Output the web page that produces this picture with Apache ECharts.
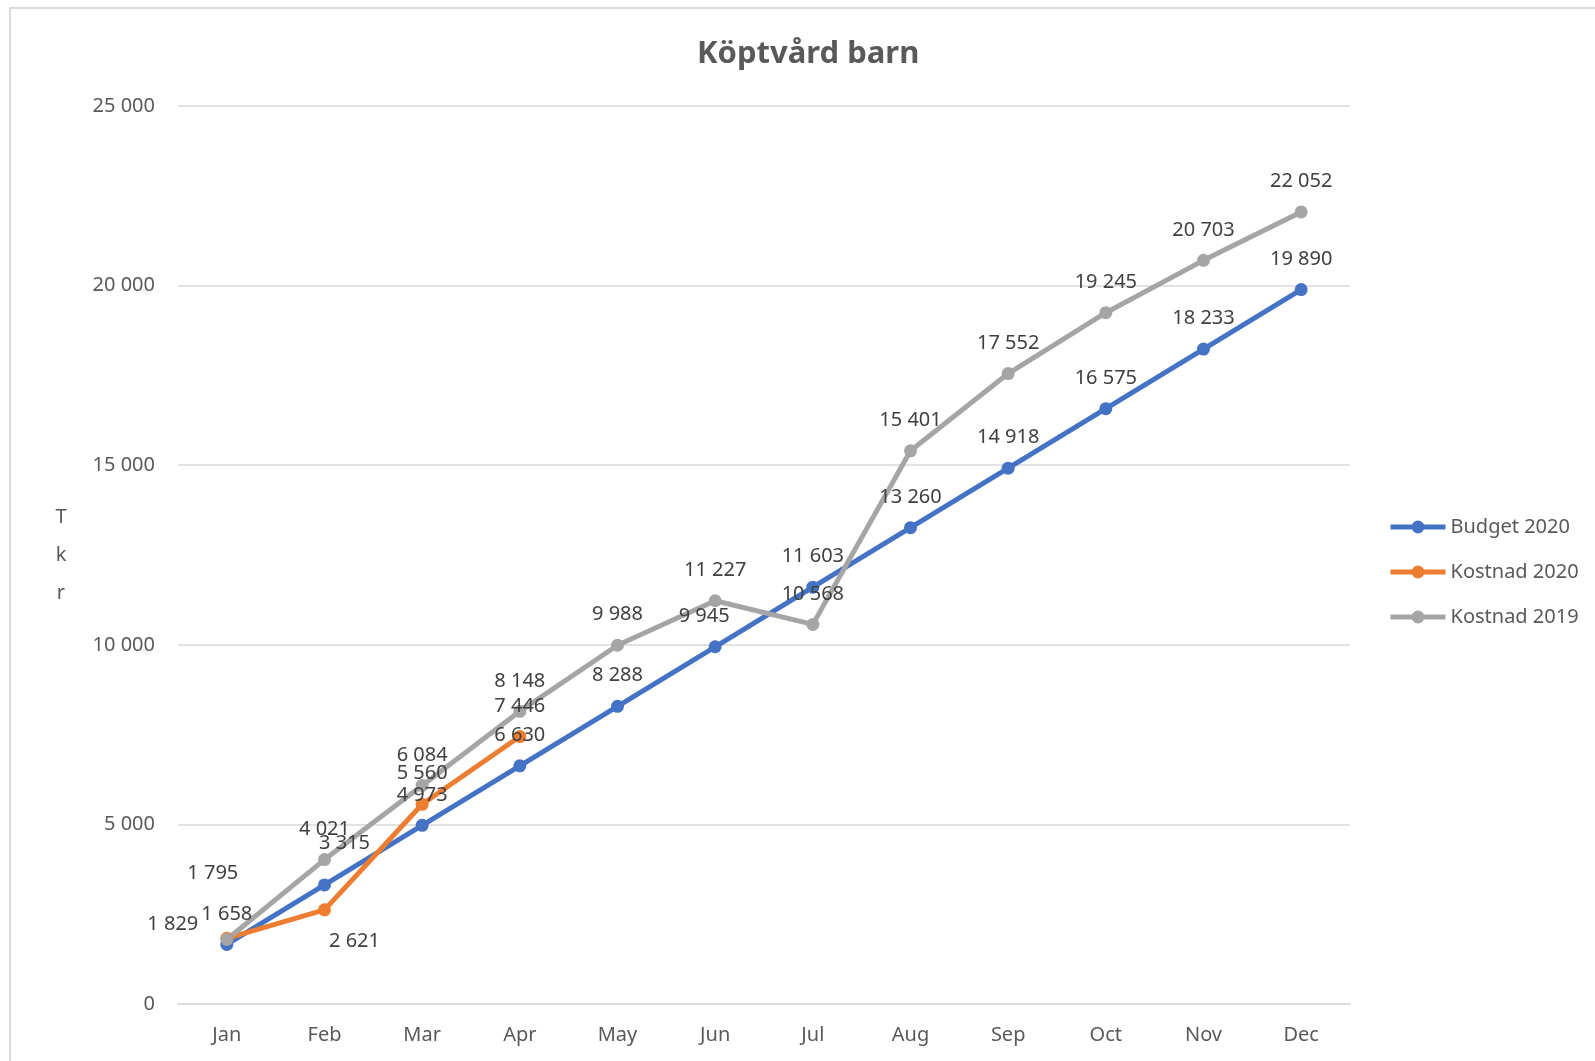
<!DOCTYPE html>
<html>
<head>
<meta charset="utf-8">
<title>Köptvård barn</title>
<script src="https://cdn.jsdelivr.net/npm/echarts@6/dist/echarts.min.js"></script>
<style>
  html, body { margin: 0; padding: 0; background: #fff; }
  #main { width: 1595px; height: 1061px; }
</style>
</head>
<body>
<div id="main"></div>
<script>
// data
var months = ['Jan', 'Feb', 'Mar', 'Apr', 'May', 'Jun', 'Jul', 'Aug', 'Sep', 'Oct', 'Nov', 'Dec'];
var budget2020 = [1658, 3315, 4973, 6630, 8288, 9945, 11603, 13260, 14918, 16575, 18233, 19890];
var kostnad2020 = [1829, 2621, 5560, 7446];
var kostnad2019 = [1795, 4021, 6084, 8148, 9988, 11227, 10568, 15401, 17552, 19245, 20703, 22052];

// moved labels: [dx, dy] from the default top position
var labelMoves = {
  0: { 1: [20, -11], 5: [-11, 0] },
  1: { 0: [-54, 16], 1: [30, 62] },
  2: { 0: [-14, -36] }
};

var txt = '#595959';
var font = 'Noto Sans';

function fmt(v) {
  return String(v).replace(/\B(?=(\d{3})+(?!\d))/g, ' ');
}

function buildData(values, seriesIdx) {
  return values.map(function (v, i) {
    var mv = labelMoves[seriesIdx][i];
    if (!mv) return v;
    return { value: v, label: { offset: mv } };
  });
}

function makeSeries(name, values, color, idx) {
  return {
    name: name,
    type: 'line',
    data: buildData(values, idx),
    symbol: 'circle',
    symbolSize: 13,
    lineStyle: { width: 5, color: color },
    itemStyle: { color: color },
    label: {
      show: true,
      position: 'top',
      distance: 14,
      color: '#404040',
      fontFamily: font,
      fontSize: 20,
      formatter: function (p) { return fmt(p.value); }
    }
  };
}

var chart = echarts.init(document.getElementById('main'));
chart.setOption({
  animation: false,
  backgroundColor: '#fff',
  graphic: [{
    type: 'rect',
    shape: { x: 10, y: 8, width: 1600, height: 1100 },
    style: { fill: 'none', stroke: '#d9d9d9', lineWidth: 2 },
    silent: true
  }],
  title: {
    text: 'Köptvård barn',
    left: 692,
    top: 34,
    textStyle: { fontFamily: font, fontSize: 31, fontWeight: 'bold', color: txt }
  },
  legend: {
    orient: 'vertical',
    left: 1383,
    top: 512,
    itemWidth: 55,
    itemHeight: 16,
    itemGap: 25,
    lineStyle: { width: 5 },
    textStyle: { fontFamily: font, fontSize: 20, color: txt, lineHeight: 20 },
    data: ['Budget 2020', 'Kostnad 2020', 'Kostnad 2019']
  },
  grid: { left: 178, right: 245, top: 106, bottom: 57 },
  xAxis: {
    type: 'category',
    data: months,
    boundaryGap: true,
    axisLine: { lineStyle: { color: '#d9d9d9', width: 1.5 } },
    axisTick: { show: false },
    axisLabel: { color: txt, fontFamily: font, fontSize: 20, margin: 21 }
  },
  yAxis: {
    type: 'value',
    min: 0,
    max: 25000,
    interval: 5000,
    name: 'T\nk\nr',
    nameLocation: 'middle',
    nameRotate: 0,
    nameGap: 117,
    nameTextStyle: { color: txt, fontFamily: font, fontSize: 20, lineHeight: 38, align: 'center', padding: [8, 0, 0, 0] },
    axisLine: { show: false },
    axisTick: { show: false },
    splitLine: { lineStyle: { color: '#d9d9d9', width: 1.5 } },
    axisLabel: { color: txt, fontFamily: font, fontSize: 20, margin: 23, formatter: fmt }
  },
  series: [
    makeSeries('Budget 2020', budget2020, '#4472C4', 0),
    makeSeries('Kostnad 2020', kostnad2020, '#ED7D31', 1),
    makeSeries('Kostnad 2019', kostnad2019, '#A5A5A5', 2)
  ]
});
</script>
</body>
</html>
